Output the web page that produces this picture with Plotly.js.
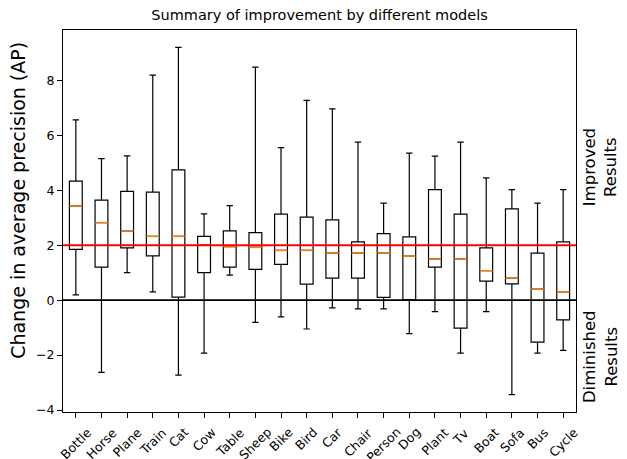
<!DOCTYPE html>
<html>
<head>
<meta charset="utf-8">
<script src="https://cdn.plot.ly/plotly-3.0.1.min.js"></script>
<style>html,body{margin:0;padding:0;background:#fff;}#chart{width:627px;height:459px;}</style>
</head>
<body>
<div id="chart"></div>
<script>
var categories = ["Bottle","Horse","Plane","Train","Cat","Cow","Table","Sheep","Bike","Bird","Car","Chair","Person","Dog","Plant","Tv","Boat","Sofa","Bus","Cycle"];
var lowerWhisker = [0.19,-2.63,1.0,0.30,-2.73,-1.93,0.91,-0.81,-0.61,-1.05,-0.28,-0.32,-0.32,-1.22,-0.42,-1.93,-0.42,-3.44,-1.93,-1.83];
var q1Values     = [1.85,1.2,1.90,1.61,0.11,1.0,1.2,1.12,1.30,0.58,0.80,0.80,0.10,0.02,1.2,-1.02,0.69,0.59,-1.53,-0.72];
var medianValues = [3.43,2.82,2.52,2.32,2.32,2.01,1.95,1.92,1.81,1.81,1.72,1.72,1.72,1.60,1.50,1.50,1.07,0.80,0.40,0.29];
var q3Values     = [4.33,3.64,3.96,3.93,4.74,2.32,2.52,2.46,3.13,3.02,2.92,2.12,2.42,2.30,4.02,3.13,1.90,3.32,1.71,2.12];
var upperWhisker = [6.56,5.15,5.25,8.19,9.2,3.14,3.44,8.48,5.55,7.27,6.96,5.75,3.53,5.35,5.24,5.75,4.45,4.02,3.53,4.02];
var yTickValues = [-4,-2,0,2,4,6,8];
var referenceLines = [2, 0];
var annotationTexts = ["Improved<br>Results", "Diminished<br>Results"];

var font = "DejaVu Sans, sans-serif";

var boxTrace = {
  type: "box",
  x: categories,
  q1: q1Values,
  median: medianValues,
  q3: q3Values,
  lowerfence: lowerWhisker,
  upperfence: upperWhisker,
  boxpoints: false,
  width: 0.5,
  whiskerwidth: 0.5,
  fillcolor: "rgba(255,255,255,0)",
  line: {color: "black", width: 1.2},
  hoverinfo: "skip",
  showlegend: false
};

var shapes = [];
categories.forEach(function(c, i) {
  shapes.push({type: "line", xref: "x", yref: "y", x0: i - 0.25, x1: i + 0.25,
    y0: medianValues[i], y1: medianValues[i], line: {color: "#ff7f0e", width: 1.5}, layer: "above"});
});
shapes.push({type: "line", xref: "paper", yref: "y", x0: 0, x1: 1, y0: referenceLines[0], y1: referenceLines[0],
  line: {color: "red", width: 2}, layer: "above"});
shapes.push({type: "line", xref: "paper", yref: "y", x0: 0, x1: 1, y0: referenceLines[1], y1: referenceLines[1],
  line: {color: "black", width: 1.6}, layer: "above"});

var annotations = [];
categories.forEach(function(c, i) {
  annotations.push({text: c, x: i, xref: "x", y: 0, yref: "paper", yshift: -10,
    xanchor: "center", yanchor: "top", textangle: -45, showarrow: false,
    font: {family: font, size: 12.5, color: "black"}});
});
annotations.push({text: "Change in average precision (AP)", x: -0.088, xref: "paper", y: 0.555, yref: "paper",
  textangle: -90, showarrow: false, xanchor: "center", yanchor: "middle",
  font: {family: font, size: 19, color: "black"}});
annotations.push({text: annotationTexts[0], x: 1.047, xref: "paper", y: 0.641, yref: "paper",
  textangle: -90, showarrow: false, xanchor: "center", yanchor: "middle",
  font: {family: font, size: 16.5, color: "black"}});
annotations.push({text: annotationTexts[1], x: 1.047, xref: "paper", y: 0.144, yref: "paper",
  textangle: -90, showarrow: false, xanchor: "center", yanchor: "middle",
  font: {family: font, size: 16.5, color: "black"}});

var layout = {
  width: 627, height: 459,
  margin: {l: 63, r: 51, t: 30, b: 47, pad: 0},
  paper_bgcolor: "white", plot_bgcolor: "white",
  font: {family: font, size: 12, color: "black"},
  title: {text: "Summary of improvement by different models", font: {family: font, size: 14.5, color: "black"},
    x: 0.5, xref: "paper", y: 0.967, yref: "container", yanchor: "middle"},
  xaxis: {type: "category", range: [-0.5, 19.5], showticklabels: false, ticks: "outside", ticklen: 5,
    tickcolor: "black", showline: true, mirror: true, linecolor: "black", linewidth: 1,
    showgrid: false, zeroline: false, fixedrange: true},
  yaxis: {range: [-4.07, 9.83], tickvals: yTickValues, ticks: "outside", ticklen: 5, tickcolor: "black",
    showline: true, mirror: true, linecolor: "black", linewidth: 1, showgrid: false, zeroline: false,
    tickfont: {family: font, size: 12.5, color: "black"}, fixedrange: true},
  shapes: shapes,
  annotations: annotations,
  showlegend: false
};

Plotly.newPlot("chart", [boxTrace], layout, {displayModeBar: false, staticPlot: true});
</script>
</body>
</html>
